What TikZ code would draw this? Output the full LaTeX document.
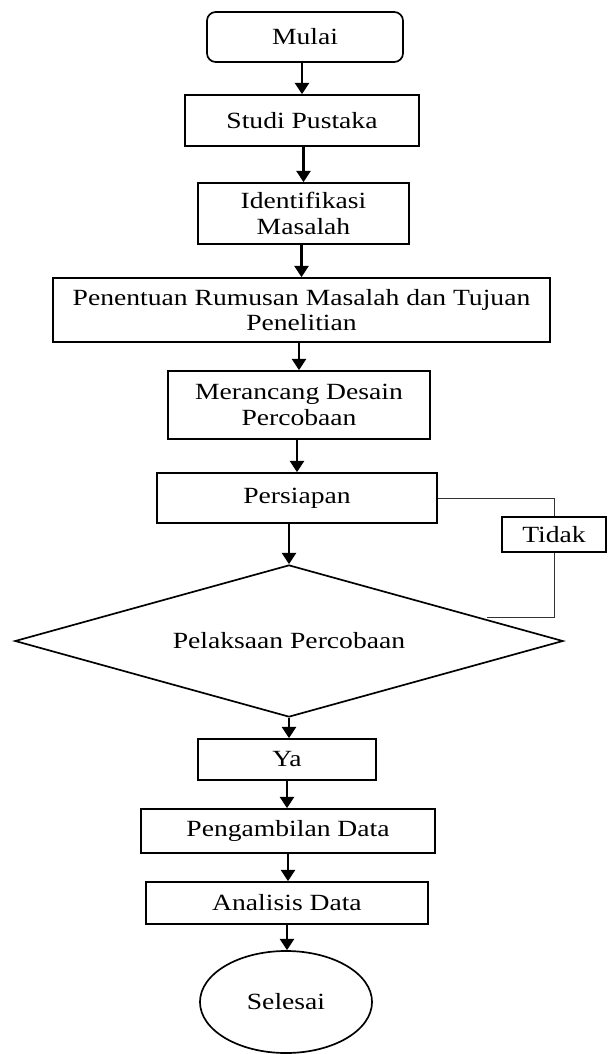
\documentclass[tikz,border=0pt]{standalone}
\usepackage{fontspec}
\setmainfont{Liberation Serif}[FakeStretch=1.19]
\usepackage{tikz}
\usetikzlibrary{arrows.meta, shapes.geometric}

\begin{document}
\begin{tikzpicture}[x=0.025cm,y=-0.025cm,
        font=\fontsize{16.5}{18}\selectfont,
        kotak/.style={draw, line width=1.2pt, rectangle, align=center},
        mulaiselesai/.style={kotak, rounded corners=0.22cm},
        keputusan/.style={draw, line width=1.2pt, diamond, aspect=3.6, inner sep=0pt,
                          minimum width=13.7cm, minimum height=3.8cm},
        akhir/.style={draw, line width=1.2pt, ellipse, minimum width=4.3cm, minimum height=2.55cm},
        panah/.style={line width=1.6pt, -{Triangle[width=10pt,length=8pt]}},
        garis/.style={line width=0.7pt, black!80}]
            \useasboundingbox (0,0) rectangle (607,1054);

            % langkah-langkah
            \node[mulaiselesai, minimum width=4.9cm, minimum height=1.25cm] (mulai) at (305,37) {Mulai};
            \node[kotak, minimum width=5.85cm, minimum height=1.275cm] (studi) at (302,120.5) {Studi Pustaka};
            \node[kotak, minimum width=5.275cm, minimum height=1.525cm] (ident) at (303.5,213.5) {Identifikasi\\Masalah};
            \node[kotak, minimum width=12.425cm, minimum height=1.6cm] (rumusan) at (301.5,310) {Penentuan Rumusan Masalah dan Tujuan\\Penelitian};
            \node[kotak, minimum width=6.55cm, minimum height=1.7cm] (desain) at (299,405) {Merancang Desain\\Percobaan};
            \node[kotak, minimum width=7cm, minimum height=1.25cm] (persiapan) at (297,498) {Persiapan};

            % keputusan
            \node[keputusan] (uji) at (289,641) {Pelaksaan Percobaan};
            \node[kotak, minimum width=2.6cm, minimum height=0.875cm] (tidak) at (554,534.5) {Tidak};
            \node[kotak, minimum width=4.45cm, minimum height=1.025cm] (ya) at (287,759.5) {Ya};

            \node[kotak, minimum width=7.35cm, minimum height=1.1cm] (ambil) at (288,831) {Pengambilan Data};
            \node[kotak, minimum width=7.05cm, minimum height=1.05cm] (analisis) at (287,903) {Analisis Data};
            \node[akhir] (selesai) at (286,1002) {Selesai};

            % panah utama
            \draw[panah] (mulai.south -| studi.north) -- (studi.north);
            \draw[panah] (studi.south -| ident.north) -- (ident.north);
            \draw[panah] (ident.south -| rumusan.north) -- (rumusan.north);
            \draw[panah] (rumusan.south -| desain.north) -- (desain.north);
            \draw[panah] (desain.south -| persiapan.north) -- (persiapan.north);
            \draw[panah] (persiapan.south -| uji.north) -- (uji.north);
            \draw[panah] (uji.south) -- (uji.south |- ya.north);
            \draw[panah] (ya.south) -- (ya.south |- ambil.north);
            \draw[panah] (ambil.south) -- (ambil.south |- analisis.north);
            \draw[panah] (analisis.south) -- (analisis.south |- selesai.north);

            % jalur tidak
            \coordinate (balik) at (487,617);
            \draw[garis] (persiapan.east) -| (tidak.north);
            \draw[garis] (tidak.south) |- (balik);

        \end{tikzpicture}
\end{document}
